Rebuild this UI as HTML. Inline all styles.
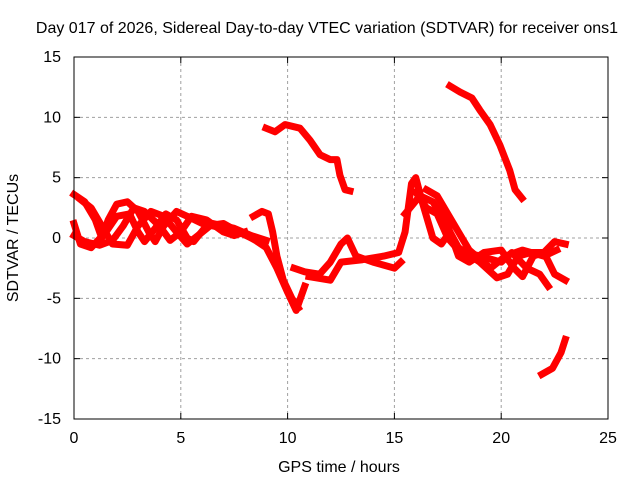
<!DOCTYPE html>
<html><head><meta charset="utf-8"><style>
body{margin:0;background:#fff}
svg{display:block;font-family:"Liberation Sans",sans-serif;font-size:16px}
</style></head><body>
<svg id="c" width="640" height="480">
<text x="327" y="33" text-anchor="middle">Day 017 of 2026, Sidereal Day-to-day VTEC variation (SDTVAR) for receiver ons1</text>
<text x="339" y="472" text-anchor="middle">GPS time / hours</text>
<text transform="translate(18,238) rotate(-90)" text-anchor="middle">SDTVAR / TECUs</text>
<g id="grid"></g>
<g id="ticks"></g>
<g id="series"></g>
<rect x="74" y="57" width="534" height="362" fill="none" stroke="#000" stroke-width="1"/>
</svg>
<script>
const xTicks=[0,5,10,15,20,25];
const yTicks=[-15,-10,-5,0,5,10,15];
const trackA=[[0,3.6],[0.5,3.0],[1.0,1.5],[1.3,0],[1.6,1.5],[2.0,2.8],[2.5,3.0],[3.0,2.2],[3.5,0.5],[3.8,-0.3],[4.2,1.0],[4.8,2.2],[5.3,1.8],[6.0,1.2],[7.0,0.8],[8.0,0.3],[8.5,-0.2],[9.0,-0.8],[9.5,-2.5],[10.0,-4.5],[10.4,-6.0],[10.8,-4.0]];
const trackB=[[0,1.2],[0.3,-0.5],[0.8,-0.8],[1.5,0.5],[2.0,1.8],[2.6,2.0],[3.0,0.5],[3.3,-0.3],[3.8,0.8],[4.3,2.0],[4.8,1.5],[5.3,0],[5.6,-0.3],[6.2,1.0],[7.0,1.2],[7.7,0.5],[8.3,0.0]];
const trackC=[[0,0.2],[0.5,-0.3],[1.2,-0.6],[1.8,-0.2],[2.3,1.0],[2.8,2.5],[3.3,2.2],[4.0,1.0],[4.5,-0.2],[5.0,0.5],[5.5,1.8],[6.2,1.5],[7.0,0.5],[7.5,0.2],[8.0,0.5]];
const trackD=[[0.3,3.2],[0.8,2.5],[1.3,1.0],[1.8,-0.5],[2.5,-0.6],[3.0,1.0],[3.6,2.2],[4.2,1.8],[4.8,0.5],[5.3,-0.5],[5.8,0.2],[6.5,1.2],[7.5,0.8],[8.3,0.2],[9.0,-0.2]];
const trackE=[[8.4,1.8],[8.8,2.2],[9.1,2.0],[9.3,0.5],[9.5,-1.5],[9.8,-3.5],[10.2,-5],[10.5,-5.8]];
const trackF=[[10.3,-2.5],[10.8,-2.8],[11.5,-3.0],[12.0,-2.0],[12.5,-0.5],[12.8,0],[13.2,-1.5],[14,-2.0],[15,-2.5],[15.3,-2.0]];
const trackG=[[11.0,-3.2],[12.0,-3.5],[12.5,-2.0],[13.5,-1.8],[14.5,-1.5],[15.2,-1.2],[15.5,0.5],[15.8,4.5],[16.0,5.0],[16.3,3.0],[16.8,0],[17.2,-0.5],[17.6,0.5],[18.0,-0.8],[19.0,-2.0],[19.8,-3.3],[20.3,-3.0],[20.8,-1.5],[21.4,-1.2],[22.0,-1.2],[22.5,-0.3],[23.0,-0.5]];
const trackH=[[15.5,2.0],[16.2,3.5],[16.8,3.0],[17.5,1.0],[18.0,-1.5],[18.5,-2.0],[19.2,-1.2],[20.0,-1.0],[20.6,-2.5],[21.0,-3.2],[21.5,-1.5],[22.0,-1.2],[22.5,-3.0],[23.0,-3.5]];
const trackI=[[16.0,3.8],[16.5,2.5],[17.0,2.0],[17.5,0],[18.0,-1.0],[19.0,-1.5],[20.0,-2.0],[20.5,-1.2],[21.2,-2.5],[21.8,-3.0],[22.2,-4.0]];
const trackJ=[[16.5,4.0],[17.0,3.5],[17.5,2.0],[18.0,0.5],[18.5,-1.0],[19.5,-2.5],[20.2,-1.5],[21,-1.0],[22,-1.5],[22.6,-1.0]];
const trackUp1=[[8.99,9.1],[9.41,8.8],[9.88,9.4],[10.58,9.1],[11.05,8.1],[11.52,6.9],[11.99,6.5],[12.31,6.5],[12.45,5.2],[12.69,4.0],[12.92,3.9]];
const trackUp2=[[17.6,12.6],[18.07,12.1],[18.63,11.6],[19.0,10.6],[19.48,9.4],[19.94,7.7],[20.4,5.6],[20.65,4.0],[20.97,3.3]];
const trackLow=[[21.9,-11.3],[22.4,-10.8],[22.8,-9.5],[23.0,-8.4]];
const tracks=[trackA,trackB,trackC,trackD,trackE,trackF,trackG,trackH,trackI,trackJ,trackUp1,trackUp2,trackLow];
const X=h=>74+h*(534/25), Y=v=>238-v*(362/30);
const NS='http://www.w3.org/2000/svg';
const grid=document.getElementById('grid'),ticks=document.getElementById('ticks'),ser=document.getElementById('series');
function mk(t,a,p){const e=document.createElementNS(NS,t);for(const k in a)e.setAttribute(k,a[k]);p.appendChild(e);return e;}
xTicks.forEach(t=>{const x=X(t);
 if(t>0&&t<25){const g=mk('line',{x1:x,x2:x,y1:57,y2:419,stroke:'#a0a0a0','stroke-dasharray':'3,3'},grid);
 
 }
 mk('line',{x1:x,x2:x,y1:419,y2:413,stroke:'#000'},ticks);mk('line',{x1:x,x2:x,y1:57,y2:63,stroke:'#000'},ticks);
 const l=mk('text',{x:x,y:443,'text-anchor':'middle'},ticks);l.textContent=t;
 
 });
yTicks.forEach(t=>{const y=Y(t);
 if(t>-15&&t<15){const g=mk('line',{x1:74,x2:608,y1:y,y2:y,stroke:'#a0a0a0','stroke-dasharray':'3,3'},grid);
 
 }
 mk('line',{x1:74,x2:80,y1:y,y2:y,stroke:'#000'},ticks);mk('line',{x1:608,x2:602,y1:y,y2:y,stroke:'#000'},ticks);
 const l=mk('text',{x:61,y:y+5,'text-anchor':'end'},ticks);l.textContent=t;
 
 });
tracks.forEach(tr=>{const p=mk('polyline',{points:tr.map(d=>X(d[0])+','+Y(d[1])).join(' '),fill:'none',stroke:'#ff0000','stroke-width':7,'stroke-linejoin':'round','stroke-linecap':'square'},ser);
 
 });
</script>
</body></html>
